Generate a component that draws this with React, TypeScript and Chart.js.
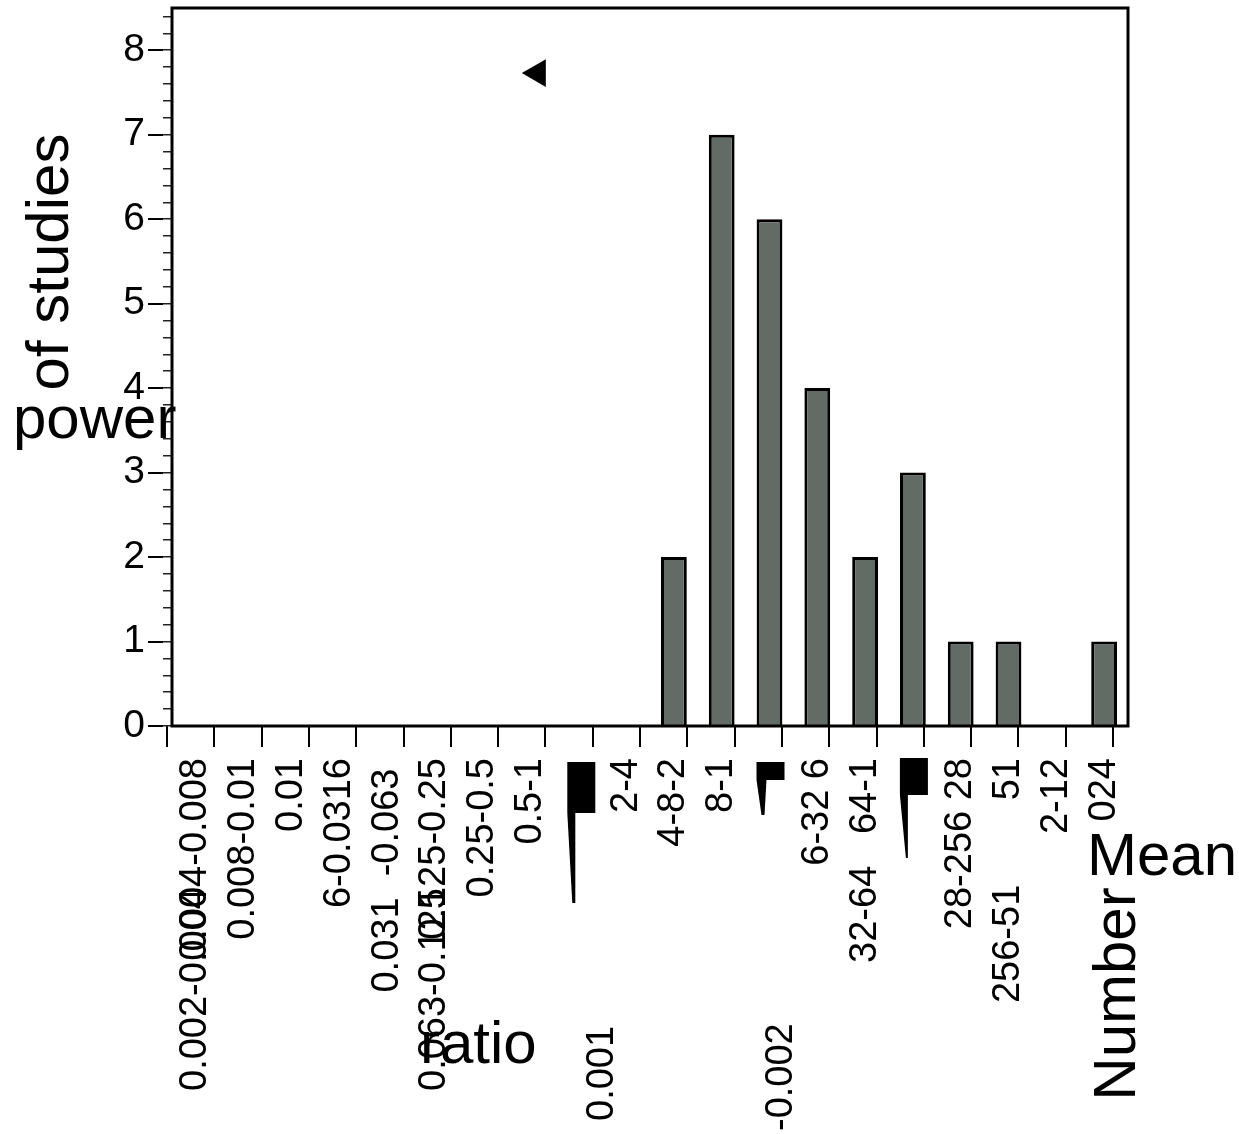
import React, { useEffect, useRef } from 'react';
import { Chart, registerables } from 'chart.js';

Chart.register(...registerables);

const FONT = "'Liberation Sans', Arial, Helvetica, sans-serif";

// Category tick labels, as they appear (garbled) in the reference
const categories = [
  '0.004-0.008',
  '0.008-0.01',
  '0.01',
  '6-0.0316',
  '0.031  -0.063 ',
  '0.125-0.25',
  '0.25-0.5',
  '0.5-1',
  '',
  '2-4',
  '4-8-2',
  '8-1',
  '',
  '6-32 6',
  '32-64   64-1',
  '',
  '28-256 28',
  '256-51        51',
  '2-12',
  '024',
];

// Number of studies per bin
const studyCounts = [0, 0, 0, 0, 0, 0, 0, 0, 0, 0, 2, 7, 6, 4, 2, 3, 1, 1, 0, 1];

// Mean marker (left-pointing triangle)
const meanMarker = [{ x: 7.84, y: 7.73 }];

// Tick mark positions on the bottom axis
const xTickValues = [0, 1, 2, 3, 4, 5, 6, 7, 8, 9, 10, 11, 12, 13, 14, 15, 16, 17, 18, 19, 20];

// Extra text fragments that overlap / hang below category labels
const overlapLabels = [
  { category: 0, text: '0.002-0.004' },
  { category: 5, text: '0.063-0.125' },
];
const strayLabels = [
  { category: 8, text: '0.001' },
  { category: 12, text: '-0.002' },
];
const brokenGlyphCategories = [8, 12, 15];

// Broken axis titles
const yTitleRotated = 'of studies';
const yTitleFlat = 'power';
const xTitleFlat = 'ratio';
const cornerTitleFlat = 'Mean';
const cornerTitleRotated = 'Number';

function rotatedText(
  ctx: CanvasRenderingContext2D,
  text: string,
  x: number,
  y: number,
  align: CanvasTextAlign,
  baseline: CanvasTextBaseline
) {
  ctx.save();
  ctx.translate(x, y);
  ctx.rotate(-Math.PI / 2);
  ctx.textAlign = align;
  ctx.textBaseline = baseline;
  ctx.fillText(text, 0, 0);
  ctx.restore();
}

const strayLayout: Record<number, { dx: number; bottom: number }> = {
  8: { dx: 24.7, bottom: 1121 },
  12: { dx: 12, bottom: 1131 },
};

const glyphShapes: Record<number, { rect: [number, number, number, number]; wedge: [number, number][] }> = {
  8: { rect: [-11, 15, 28, 51], wedge: [[-11, 66], [-3, 66], [-3, 156], [-6, 156]] },
  12: { rect: [-13, 15, 28, 18], wedge: [[-13, 33], [-3, 33], [-5, 68], [-8, 68]] },
  15: { rect: [-13, 11, 28, 37], wedge: [[-13, 48], [-5, 48], [-5, 111], [-7, 111]] },
};

const decorPlugin = {
  id: 'decor',
  afterDatasetsDraw(chart: any) {
    const { ctx, chartArea } = chart;
    ctx.save();
    ctx.strokeStyle = '#000';
    ctx.lineWidth = 3;
    ctx.strokeRect(chartArea.left, chartArea.top, chartArea.right - chartArea.left, chartArea.bottom - chartArea.top);
    ctx.restore();
  },
  afterDraw(chart: any) {
    const ctx: CanvasRenderingContext2D = chart.ctx;
    const xs = chart.scales.x;
    ctx.save();
    ctx.fillStyle = '#000';

    // overlapping label fragments
    ctx.font = `38px ${FONT}`;
    overlapLabels.forEach((o) => {
      const cx = xs.getPixelForValue(o.category);
      rotatedText(ctx, o.text, cx, 1091, 'left', 'middle');
    });
    strayLabels.forEach((s) => {
      const lay = strayLayout[s.category];
      const cx = xs.getPixelForValue(s.category) + lay.dx;
      rotatedText(ctx, s.text, cx, lay.bottom, 'left', 'middle');
    });

    // broken glyph shapes
    brokenGlyphCategories.forEach((c) => {
      const shape = glyphShapes[c];
      const cx = xs.getPixelForValue(c);
      const top = xs.top;
      const [rx, ry, rw, rh] = shape.rect;
      ctx.fillRect(cx + rx, top + ry, rw, rh);
      ctx.beginPath();
      shape.wedge.forEach(([dx, dy], i) => {
        if (i === 0) ctx.moveTo(cx + dx, top + dy);
        else ctx.lineTo(cx + dx, top + dy);
      });
      ctx.closePath();
      ctx.fill();
    });

    // titles
    ctx.font = `60px ${FONT}`;
    rotatedText(ctx, yTitleRotated, 68, 262, 'center', 'alphabetic');
    ctx.textAlign = 'left';
    ctx.textBaseline = 'alphabetic';
    ctx.fillText(yTitleFlat, 13, 438);
    ctx.fillText(xTitleFlat, 420, 1063);
    ctx.fillText(cornerTitleFlat, 1087, 875);
    rotatedText(ctx, cornerTitleRotated, 1135, 994, 'center', 'alphabetic');
    ctx.restore();
  },
};

export default function App() {
  const ref = useRef<HTMLCanvasElement>(null);

  useEffect(() => {
    if (!ref.current) return;
    const chart = new Chart(ref.current, {
      type: 'bar',
      data: {
        labels: categories,
        datasets: [
          {
            type: 'bar',
            data: studyCounts,
            xAxisID: 'x',
            yAxisID: 'y',
            backgroundColor: '#636b66',
            borderColor: '#000',
            borderWidth: 3,
            barPercentage: 0.54,
            categoryPercentage: 1,
            grouped: false,
          } as any,
          {
            type: 'scatter',
            data: meanMarker,
            xAxisID: 'x2',
            yAxisID: 'y',
            pointStyle: 'triangle',
            rotation: -90,
            pointRadius: 16,
            backgroundColor: '#000',
            borderColor: '#000',
            borderWidth: 0,
          } as any,
        ],
      },
      options: {
        responsive: false,
        animation: false,
        layout: { autoPadding: false, padding: { left: 0, top: 8, right: 111, bottom: 0 } },
        plugins: {
          legend: { display: false },
          tooltip: { enabled: false },
          title: { display: false },
        },
        scales: {
          x: {
            type: 'category',
            position: 'bottom',
            weight: 1,
            offset: true,
            grid: { display: false, drawTicks: false },
            border: { display: false },
            ticks: {
              autoSkip: false,
              minRotation: 90,
              maxRotation: 90,
              padding: 11,
              color: '#000',
              font: { family: FONT, size: 38 },
            },
            afterFit: (s: any) => {
              s.height = 387;
              s.paddingLeft = 0;
              s.paddingRight = 0;
            },
          },
          x2: {
            type: 'linear',
            position: 'bottom',
            weight: 0,
            offset: false,
            min: 0.1057,
            max: 20.317,
            grid: {
              display: true,
              offset: false,
              drawOnChartArea: false,
              drawTicks: true,
              tickLength: 21,
              color: '#000',
              lineWidth: 2,
            },
            border: { display: false },
            ticks: { display: false },
            afterBuildTicks: (s: any) => {
              s.ticks = xTickValues.map((v) => ({ value: v }));
            },
            afterFit: (s: any) => {
              s.height = 21;
              s.paddingLeft = 0;
              s.paddingRight = 0;
            },
          },
          y: {
            type: 'linear',
            position: 'left',
            weight: 1,
            min: 0,
            max: 8.5,
            grid: { drawOnChartArea: false, drawTicks: true, tickLength: 15, color: '#000', lineWidth: 2 },
            border: { display: false },
            ticks: {
              stepSize: 1,
              includeBounds: false,
              padding: 3,
              color: '#000',
              font: { family: FONT, size: 39 },
            },
            afterFit: (s: any) => {
              s.width = 163;
              s.paddingTop = 0;
              s.paddingBottom = 0;
            },
          },
          yMinor: {
            type: 'linear',
            position: 'left',
            weight: 0,
            min: 0,
            max: 8.5,
            grid: { drawOnChartArea: false, drawTicks: true, tickLength: 9, color: '#222', lineWidth: 1.5 },
            border: { display: false },
            ticks: { display: false, stepSize: 0.2, includeBounds: false },
            afterFit: (s: any) => {
              s.width = 9;
              s.paddingTop = 0;
              s.paddingBottom = 0;
            },
          },
        },
      } as any,
      plugins: [decorPlugin],
    });
    return () => chart.destroy();
  }, []);

  return (
    <div style={{ position: 'absolute', left: 0, top: 0, width: 1239, height: 1134, background: '#fff' }}>
      <canvas ref={ref} width={1239} height={1134} style={{ display: 'block', width: 1239, height: 1134 }} />
    </div>
  );
}
